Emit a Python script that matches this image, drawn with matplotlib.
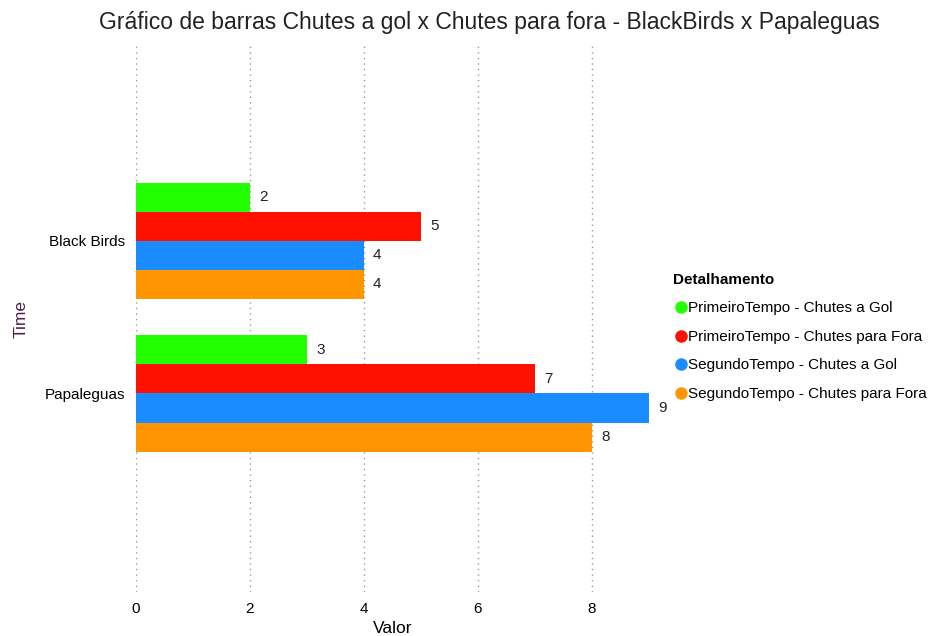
import matplotlib.pyplot as plt
from matplotlib.lines import Line2D
import numpy as np

plt.rcParams["font.family"] = ["Liberation Sans", "DejaVu Sans"]

# dados
times = ["Black Birds", "Papaleguas"]
series = ["PrimeiroTempo - Chutes a Gol", "PrimeiroTempo - Chutes para Fora",
          "SegundoTempo - Chutes a Gol", "SegundoTempo - Chutes para Fora"]
valores = [
    [2, 3],   # PrimeiroTempo - Chutes a Gol
    [5, 7],   # PrimeiroTempo - Chutes para Fora
    [4, 9],   # SegundoTempo - Chutes a Gol
    [4, 8],   # SegundoTempo - Chutes para Fora
]
cores = ["#22ff00", "#ff1100", "#1a8cff", "#ff9500"]
ticks_x = [0, 2, 4, 6, 8]

fig = plt.figure(figsize=(9.44, 6.36), dpi=100)
ax = fig.add_axes([0.144, 0.069, 0.5435, 0.86])

y = np.arange(len(times))
h = 0.19
for i, (nome, vals, cor) in enumerate(zip(series, valores, cores)):
    pos = y + (i - 1.5) * h
    ax.barh(pos, vals, height=h, color=cor, label=nome)
    for p, v in zip(pos, vals):
        ax.text(v + 0.16, p, str(v), va="center", ha="left", fontsize=11, color="#222222")

ax.set_xlim(0, 9)
ax.set_ylim(2.30, -1.28)
ax.set_yticks(y)
ax.set_yticklabels(times, fontsize=11)
ax.set_xticks(ticks_x)
ax.set_xticklabels([str(t) for t in ticks_x], fontsize=11)
ax.tick_params(length=0, pad=7)
ax.tick_params(axis="y", pad=8)
for s in ax.spines.values():
    s.set_visible(False)
ax.grid(axis="x", linestyle=(0, (1, 3)), color="#999999", linewidth=1)
ax.set_axisbelow(True)

ax.set_xlabel("Valor", fontsize=12.5, labelpad=4)
ax.set_ylabel("Time", fontsize=12.5, color="#4a1f4a", labelpad=11)

fig.text(0.518, 0.965, "Gráfico de barras Chutes a gol x Chutes para fora - BlackBirds x Papaleguas",
         ha="center", va="center", fontsize=16.5, color="#222222")

# legenda
handles = [Line2D([0], [0], marker="o", linestyle="", markersize=8, color=c) for c in cores]
leg = fig.legend(handles, series, loc="upper left", bbox_to_anchor=(0.705, 0.583),
                 frameon=False, title="Detalhamento", fontsize=11, title_fontsize=11,
                 handletextpad=0.0, labelspacing=0.95, handlelength=1.0, borderpad=0)
leg.get_title().set_fontweight("bold")
leg._legend_box.align = "left"

fig.savefig("out.png", dpi=100)
